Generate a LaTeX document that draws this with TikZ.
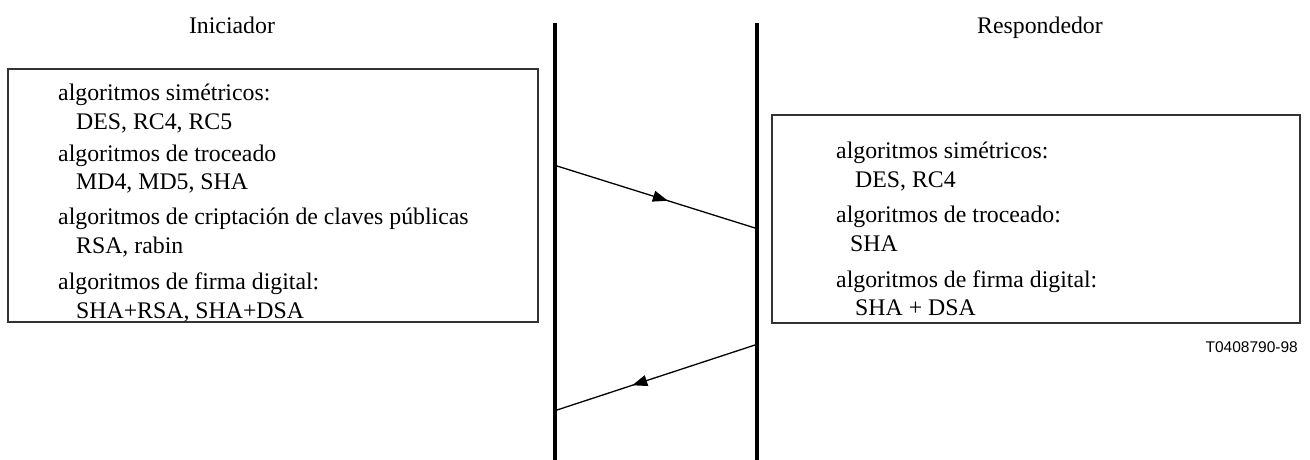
\documentclass[tikz,border=0pt]{standalone}
\usepackage{fontspec}
\setmainfont{Liberation Serif}
\newfontfamily\reffont{Liberation Sans}
\usetikzlibrary{arrows.meta,decorations.markings,positioning}

\tikzset{
  lifeline/.style={line width=4pt},
  algbox/.style={draw=black!80, line width=1.3pt},
  msg/.style={line width=1.3pt, postaction={decorate},
    decoration={markings, mark=at position #1 with {\arrow{Triangle[length=15pt,width=11pt]}}}},
  msg/.default=0.55,
  algtext/.style={anchor=base west, inner sep=0pt, font=\fontsize{23.8}{28}\selectfont},
  party/.style={anchor=base, inner sep=0pt, font=\fontsize{23.8}{28}\selectfont}
}

\begin{document}
\begin{tikzpicture}[x=1pt,y=-1pt]
\useasboundingbox (0,0) rectangle (1310,460);

% lifelines
\coordinate (ini top) at (555,23);
\coordinate (ini bot) at (555,460);
\coordinate (res top) at (757,23);
\coordinate (res bot) at (757,460);
\draw[lifeline] (ini top) -- (ini bot);
\draw[lifeline] (res top) -- (res bot);

\node[party] (ini) at (232,34) {Iniciador};
\node[party] (res) at (1040,34) {Respondedor};

% initiator offer
\draw[algbox] (8,69) rectangle (538,322);
\node[algtext] (ini sym) at (58,100) {algoritmos simétricos:};
\node[algtext] (ini sym list) at (76,129) {DES, RC4, RC5};
\node[algtext] (ini hash) at (58,161) {algoritmos de troceado};
\node[algtext] (ini hash list) at (76,189) {MD4, MD5, SHA};
\node[algtext] (ini pk) at (58,224) {algoritmos de criptación de claves públicas};
\node[algtext] (ini pk list) at (76,253) {RSA, rabin};
\node[algtext] (ini sig) at (58,289) {algoritmos de firma digital:};
\node[algtext] (ini sig list) at (76,318) {SHA+RSA, SHA+DSA};

% responder choice
\draw[algbox] (772,115) rectangle (1300,323);
\node[algtext] (res sym) at (836,158) {algoritmos simétricos:};
\node[algtext] (res sym list) at (855,187) {DES, RC4};
\node[algtext] (res hash) at (836,222) {algoritmos de troceado:};
\node[algtext] (res hash list) at (850,251) {SHA};
\node[algtext] (res sig) at (836,287) {algoritmos de firma digital:};
\node[algtext] (res sig list) at (855,315) {SHA + DSA};

\node[anchor=base east, inner sep=0pt, font=\reffont\fontsize{15.5}{18}\selectfont] (ref) at (1298,352) {T0408790-98};

% messages
\coordinate (m1 s) at (557,166);
\coordinate (m1 e) at (755,228);
\coordinate (m2 s) at (755,345);
\coordinate (m2 e) at (557,410);
\draw[msg=0.56] (m1 s) -- (m1 e);
\draw[msg=0.62] (m2 s) -- (m2 e);

\end{tikzpicture}
\end{document}
